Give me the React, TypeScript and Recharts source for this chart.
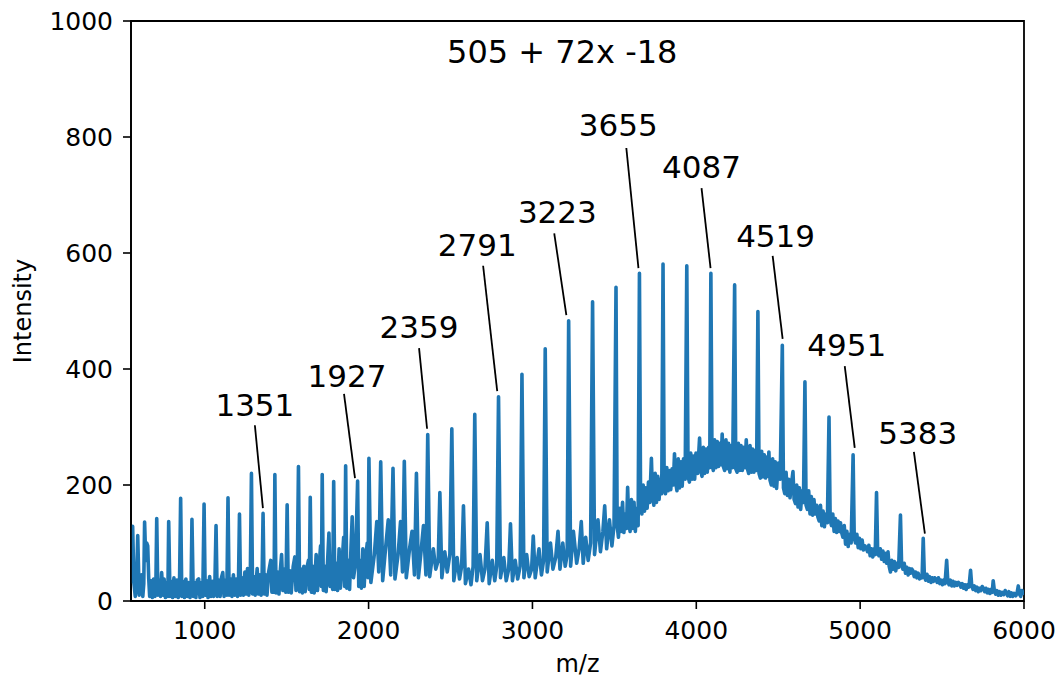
import React from "react";
import {
  LineChart,
  Line,
  XAxis,
  YAxis,
  ReferenceLine,
  ReferenceDot,
  ReferenceArea,
} from "recharts";

// main peak tops (m/z, intensity)
const peakMz = [
  560, 591, 633, 707, 780, 853, 922, 996, 1069, 1142, 1212, 1285, 1356, 1428,
  1503, 1572, 1644, 1717, 1787, 1860, 1933, 2002, 2074, 2149, 2218, 2292, 2361,
  2435, 2508, 2579, 2648, 2724, 2793, 2866, 2936, 3005, 3078, 3156, 3221, 3298,
  3367, 3441, 3510, 3581, 3653, 3726, 3797, 3867, 3942, 4020, 4089, 4158, 4234,
  4305, 4376, 4443, 4525, 4590, 4663, 4735, 4810, 4880, 4957, 5030, 5100, 5170,
  5246, 5315, 5385, 5455, 5528, 5600, 5674, 5745, 5812, 5885, 5965,
];
const peakIntensity = [
  129, 113, 136, 142, 137, 177, 141, 167, 130, 178, 150, 220, 151, 218, 166,
  232, 179, 218, 206, 233, 207, 246, 240, 229, 241, 220, 287, 187, 297, 164,
  322, 135, 352, 133, 391, 112, 435, 120, 483, 137, 516, 164, 541, 196, 565,
  246, 581, 254, 578, 281, 565, 288, 545, 278, 499, 257, 441, 223, 378, 165,
  317, 135, 252, 95, 187, 85, 148, 55, 108, 40, 70, 32, 53, 25, 35, 18, 26,
];

// noisy floor between the peaks, [m/z, intensity]
const floorLowMass: [number, number][] = [
  [553, 30], [568, 30], [576, 8], [584, 32], [600, 10], [608, 40], [615, 45],
  [622, 8], [628, 30], [640, 70], [646, 100], [652, 95], [658, 40], [664, 8],
  [672, 35], [680, 6], [688, 38], [696, 8], [702, 30], [714, 10], [722, 36],
  [730, 8], [737, 49], [745, 10], [752, 38], [760, 6], [768, 32], [775, 8],
  [788, 8], [796, 34], [804, 6], [812, 40], [820, 8], [830, 36], [838, 6],
  [846, 30], [860, 8], [868, 34], [876, 6], [885, 38], [893, 8], [902, 32],
  [910, 6], [917, 30], [930, 8], [938, 32], [946, 6], [955, 36], [963, 38],
  [971, 6], [980, 32], [988, 8], [1003, 10], [1012, 35], [1020, 6], [1030, 42],
  [1038, 8], [1046, 34], [1054, 8], [1062, 30], [1076, 8], [1085, 36],
  [1094, 8], [1102, 40], [1110, 49], [1118, 8], [1127, 36], [1135, 10],
  [1149, 10], [1158, 38], [1166, 8], [1175, 45], [1183, 10], [1192, 38],
  [1200, 8], [1206, 35], [1219, 10], [1228, 40], [1236, 10], [1245, 50],
  [1253, 12], [1261, 56], [1269, 10], [1278, 40], [1292, 12], [1300, 42],
  [1308, 10], [1320, 56], [1328, 12], [1336, 45], [1344, 10], [1350, 40],
  [1363, 12], [1372, 45], [1380, 10], [1390, 50], [1403, 70], [1410, 15],
  [1418, 45], [1423, 15], [1435, 14], [1445, 50], [1453, 12], [1462, 55],
  [1469, 80], [1477, 18], [1486, 55], [1495, 15], [1510, 15], [1520, 52],
  [1528, 14], [1540, 60], [1550, 76], [1557, 18], [1565, 50], [1579, 16],
  [1588, 55], [1596, 14], [1605, 60], [1613, 16], [1622, 55], [1633, 70],
  [1638, 20], [1651, 15], [1660, 60], [1668, 14], [1680, 80], [1688, 18],
  [1698, 60], [1707, 95], [1712, 25], [1724, 18], [1733, 60], [1741, 16],
  [1750, 70], [1758, 117], [1765, 25], [1774, 55], [1781, 20], [1794, 20],
  [1803, 65], [1811, 18], [1820, 90], [1828, 22], [1838, 65], [1848, 110],
  [1854, 25], [1867, 22], [1876, 70], [1884, 20], [1893, 95], [1900, 145],
  [1908, 40], [1918, 60], [1926, 130], [1940, 25], [1948, 70], [1956, 22],
  [1965, 90], [1973, 25], [1982, 75], [1992, 100], [1997, 40],
];
const floorMidMass: [number, number][] = [
  [2014, 32], [2035, 80], [2050, 137], [2062, 50], [2086, 35], [2105, 95],
  [2120, 140], [2135, 45], [2161, 38], [2180, 80], [2195, 137], [2207, 50],
  [2230, 40], [2250, 90], [2265, 120], [2280, 45], [2304, 40], [2320, 85],
  [2335, 130], [2350, 45], [2373, 42], [2395, 90], [2410, 55], [2425, 70],
  [2447, 40], [2465, 85], [2480, 50], [2496, 80], [2520, 35], [2540, 75],
  [2555, 38], [2568, 60], [2591, 30], [2610, 55], [2625, 28], [2638, 60],
  [2660, 35], [2680, 80], [2695, 35], [2710, 55], [2736, 30], [2755, 70],
  [2770, 35], [2782, 60], [2805, 40], [2825, 75], [2840, 35], [2855, 55],
  [2878, 35], [2895, 70], [2910, 38], [2925, 60], [2948, 40], [2965, 80],
  [2980, 42], [2995, 55], [3017, 40], [3040, 90], [3055, 45], [3068, 70],
  [3090, 50], [3110, 100], [3125, 55], [3142, 75], [3168, 55], [3185, 100],
  [3200, 60], [3212, 80], [3233, 60], [3250, 120], [3270, 65], [3285, 90],
  [3310, 65], [3325, 110], [3340, 70], [3355, 100], [3379, 80], [3400, 140],
  [3415, 85], [3430, 120], [3453, 90], [3470, 140], [3485, 95], [3498, 130],
];
const floorHump: [number, number][] = [
  [3517, 130], [3525, 110], [3533, 160], [3541, 120], [3550, 170], [3558, 118],
  [3566, 150], [3574, 125], [3588, 135], [3596, 120], [3604, 175], [3612, 125],
  [3620, 170], [3628, 120], [3636, 160], [3645, 130], [3660, 170], [3668, 150],
  [3676, 200], [3684, 155], [3692, 195], [3700, 160], [3708, 205], [3716, 170],
  [3733, 180], [3741, 165], [3749, 220], [3757, 170], [3765, 215], [3773, 175],
  [3781, 210], [3789, 185], [3804, 200], [3812, 185], [3820, 230], [3828, 190],
  [3836, 225], [3844, 192], [3852, 228], [3860, 200], [3874, 205], [3882, 190],
  [3890, 245], [3898, 195], [3906, 240], [3914, 198], [3922, 245], [3932, 210],
  [3950, 215], [3958, 205], [3966, 255], [3974, 210], [3982, 250], [3990, 210],
  [3998, 255], [4008, 220], [4027, 225], [4035, 215], [4043, 265], [4051, 220],
  [4059, 262], [4067, 222], [4075, 265], [4082, 230], [4096, 235], [4104, 225],
  [4112, 278], [4120, 230], [4128, 275], [4136, 232], [4144, 272], [4151, 235],
  [4165, 232], [4173, 225], [4181, 278], [4189, 228], [4197, 272], [4205, 222],
  [4213, 268], [4222, 230], [4241, 228], [4249, 222], [4257, 272], [4265, 225],
  [4273, 268], [4281, 225], [4289, 265], [4297, 230], [4312, 228], [4320, 220],
  [4328, 268], [4336, 222], [4344, 262], [4352, 222], [4360, 260], [4368, 225],
  [4383, 220], [4391, 212], [4399, 258], [4407, 214], [4415, 252], [4423, 212],
  [4431, 248], [4437, 215], [4450, 208], [4458, 200], [4466, 245], [4474, 198],
  [4482, 240], [4490, 194], [4500, 238], [4512, 210], [4532, 195], [4540, 185],
  [4548, 222], [4556, 182], [4564, 210], [4572, 178], [4580, 200],
];
const floorTail: [number, number][] = [
  [4597, 175], [4605, 168], [4613, 200], [4621, 162], [4629, 195], [4637, 158],
  [4645, 190], [4654, 170], [4670, 165], [4678, 158], [4686, 190], [4694, 150],
  [4702, 180], [4710, 148], [4718, 175], [4726, 150], [4742, 145], [4750, 138],
  [4758, 165], [4766, 130], [4774, 155], [4782, 128], [4790, 150], [4800, 135],
  [4817, 140], [4825, 130], [4833, 150], [4841, 120], [4849, 142], [4857, 118],
  [4865, 138], [4872, 120], [4887, 118], [4895, 110], [4903, 130], [4911, 98],
  [4919, 120], [4927, 94], [4935, 115], [4945, 100], [4964, 108], [4972, 100],
  [4980, 115], [4988, 92], [4996, 108], [5004, 90], [5012, 105], [5020, 88],
  [5037, 92], [5045, 85], [5053, 96], [5061, 78], [5069, 90], [5077, 76],
  [5085, 90], [5092, 80], [5107, 84], [5115, 78], [5123, 90], [5131, 72],
  [5139, 86], [5147, 68], [5155, 82], [5162, 65], [5177, 60], [5185, 50],
  [5193, 70], [5201, 55], [5209, 68], [5217, 52], [5225, 65], [5235, 58],
  [5253, 62], [5261, 55], [5269, 65], [5277, 48], [5285, 58], [5293, 45],
  [5301, 56], [5308, 48], [5322, 52], [5330, 42], [5338, 50], [5346, 40],
  [5354, 48], [5362, 38], [5370, 44], [5378, 40], [5392, 42], [5400, 36],
  [5408, 46], [5416, 34], [5424, 42], [5432, 32], [5440, 40], [5448, 34],
  [5462, 38], [5470, 32], [5478, 40], [5486, 30], [5494, 36], [5502, 28],
  [5510, 36], [5518, 30], [5535, 34], [5543, 28], [5551, 36], [5559, 26],
  [5567, 34], [5575, 26], [5583, 32], [5591, 27], [5607, 30], [5615, 24],
  [5623, 30], [5631, 22], [5639, 28], [5647, 20], [5655, 28], [5664, 24],
  [5681, 26], [5689, 20], [5697, 26], [5705, 18], [5713, 24], [5721, 16],
  [5729, 22], [5737, 18], [5752, 22], [5760, 16], [5768, 22], [5776, 14],
  [5784, 20], [5792, 13], [5800, 20], [5806, 15], [5819, 18], [5827, 12],
  [5835, 18], [5843, 10], [5851, 16], [5859, 10], [5867, 15], [5876, 11],
  [5892, 14], [5900, 9], [5908, 16], [5916, 8], [5924, 14], [5932, 8],
  [5940, 13], [5950, 9], [5958, 14], [5972, 12], [5980, 8], [5988, 18],
  [5996, 10],
];

const xTicks = [1000, 2000, 3000, 4000, 5000, 6000];
const yTicks = [0, 200, 400, 600, 800, 1000];

// peak labels: text centre and leader line (top -> bottom), data coords
const labelText = ["1351", "1927", "2359", "2791", "3223", "3655", "4087", "4519", "4951", "5383"];
const labelAt: [number, number][] = [
  [1306, 338], [1868, 388], [2308, 472], [2663, 614], [3152, 671],
  [3524, 821], [4032, 748], [4484, 629], [4918, 441], [5352, 290],
];
const leaderTop: [number, number][] = [
  [1306, 303], [1850, 357], [2308, 436], [2699, 578], [3133, 634],
  [3573, 781], [4032, 712], [4466, 595], [4906, 405], [5328, 257],
];
const leaderEnd: [number, number][] = [
  [1355, 160], [1917, 212], [2357, 297], [2785, 362], [3207, 493],
  [3647, 574], [4087, 574], [4527, 452], [4967, 264], [5395, 116],
];

const points = [
  ...peakMz.map((mz, i) => ({ mz, intensity: peakIntensity[i] })),
  ...[...floorLowMass, ...floorMidMass, ...floorHump, ...floorTail].map(
    ([mz, intensity]) => ({ mz, intensity })
  ),
].sort((a, b) => a.mz - b.mz);

const FONT = "DejaVu Sans, Verdana, sans-serif";
const tickStyle = { fontSize: 25, fill: "#000", fontFamily: FONT };

export default function App() {
  return (
    <div style={{ position: "absolute", left: 0, top: 0, background: "#fff" }}>
      <LineChart
        width={1063}
        height={679}
        data={points}
        margin={{ top: 21, right: 39, bottom: 18, left: 0 }}
      >
        <XAxis
          dataKey="mz"
          type="number"
          domain={[550, 6000]}
          ticks={xTicks}
          allowDataOverflow
          height={60}
          stroke="#000"
          strokeWidth={1.6}
          tickSize={8}
          tickMargin={12}
          tick={tickStyle}
          label={{ value: "m/z", position: "center", dy: 32, fontSize: 24, fill: "#000", fontFamily: FONT }}
        />
        <YAxis
          type="number"
          domain={[0, 1000]}
          ticks={yTicks}
          allowDataOverflow
          width={131}
          stroke="#000"
          strokeWidth={1.6}
          tickSize={8}
          tickMargin={10}
          tick={tickStyle}
          label={{ value: "Intensity", angle: -90, position: "center", dx: -43, fontSize: 24, fill: "#000", fontFamily: FONT }}
        />
        <Line
          type="linear"
          dataKey="intensity"
          stroke="#1f77b4"
          strokeWidth={3.6}
          strokeLinejoin="round"
          dot={false}
          isAnimationActive={false}
        />
        <ReferenceArea
          x1={550}
          x2={6000}
          y1={0}
          y2={1000}
          fill="none"
          fillOpacity={0}
          stroke="#000"
          strokeWidth={1.8}
          strokeOpacity={1}
        />
        {labelText.map((t, i) => (
          <ReferenceLine
            key={"l" + t}
            segment={[
              { x: leaderTop[i][0], y: leaderTop[i][1] },
              { x: leaderEnd[i][0], y: leaderEnd[i][1] },
            ]}
            stroke="#000"
            strokeWidth={1.8}
          />
        ))}
        {labelText.map((t, i) => (
          <ReferenceDot
            key={"t" + t}
            x={labelAt[i][0]}
            y={labelAt[i][1]}
            r={0}
            stroke="none"
            fill="none"
            label={{ value: t, position: "center", fontSize: 31, fill: "#000", fontFamily: FONT }}
          />
        ))}
        <ReferenceDot
          x={3182}
          y={947}
          r={0}
          stroke="none"
          fill="none"
          label={{ value: "505 + 72x -18", position: "center", fontSize: 32, fill: "#000", fontFamily: FONT }}
        />
      </LineChart>
    </div>
  );
}
